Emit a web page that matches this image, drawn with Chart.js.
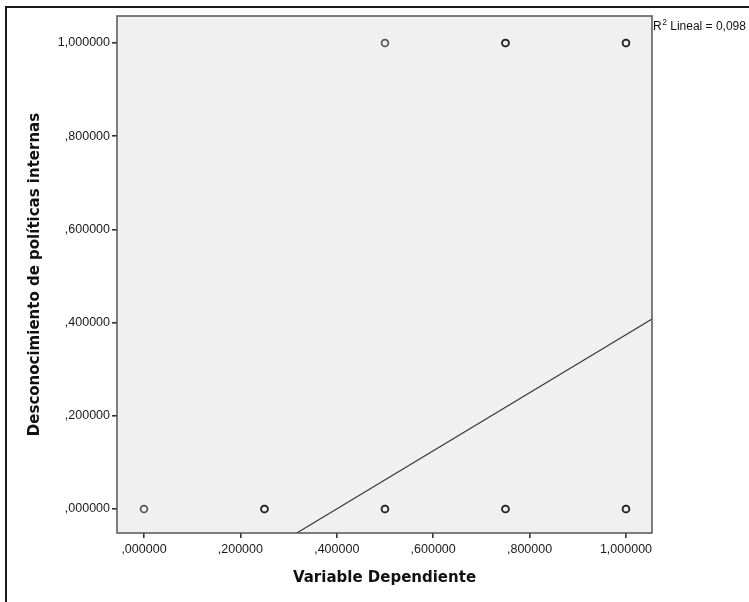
<!DOCTYPE html>
<html>
<head>
<meta charset="utf-8">
<script src="https://cdn.jsdelivr.net/npm/chart.js@4"></script>
<style>
  html, body { margin: 0; padding: 0; background: #fff; }
  canvas { display: block; }
</style>
</head>
<body>
<canvas id="grafica" width="749" height="602"></canvas>
<script>
// Dispersión: Variable Dependiente vs Desconocimiento de políticas internas

// ── Datos (puntos repetidos = casos superpuestos) ──
const puntosX = [0, 0.25, 0.25, 0.5, 0.5, 0.75, 0.75, 1, 1, 0.5, 0.75, 0.75, 1, 1];
const puntosY = [0, 0, 0, 0, 0, 0, 0, 0, 0, 1, 1, 1, 1, 1];

// Recta de ajuste lineal (estimada de la figura)
const interceptoAjuste = -0.249;
const pendienteAjuste = 0.623;
const textoR2 = 'Lineal = 0,098';

// Rango de ejes y marcas
const rangoX = [-0.056, 1.054];
const rangoY = [-0.0515, 1.058];
const marcasX = [0, 0.2, 0.4, 0.6, 0.8, 1.0];
const marcasY = [0, 0.2, 0.4, 0.6, 0.8, 1.0];
const etiquetasX = [',000000', ',200000', ',400000', ',600000', ',800000', '1,000000'];
const etiquetasY = [',000000', ',200000', ',400000', ',600000', ',800000', '1,000000'];

const puntos = puntosX.map((x, i) => ({ x, y: puntosY[i] }));
const lineaAjuste = rangoX.map(x => ({ x, y: interceptoAjuste + pendienteAjuste * x }));

const fuenteMarcas = { family: 'Liberation Sans, Arial, sans-serif', size: 12.5 };
const fuenteTitulos = { family: 'DejaVu Sans, Verdana, sans-serif', size: 15, weight: 'bold' };

// Fondo gris, marco del área, marco exterior y etiqueta R²
const decoracion = {
  id: 'decoracion',
  beforeDraw(chart) {
    const { ctx, chartArea: a } = chart;
    ctx.save();
    ctx.fillStyle = '#f0f0f0';
    ctx.fillRect(a.left, a.top, a.right - a.left, a.bottom - a.top);
    ctx.strokeStyle = '#1a1a1a';
    ctx.lineWidth = 2;
    ctx.beginPath();
    ctx.moveTo(6, chart.height);
    ctx.lineTo(6, 7);
    ctx.lineTo(chart.width, 7);
    ctx.stroke();
    ctx.restore();
  },
  afterDatasetsDraw(chart) {
    const { ctx, chartArea: a } = chart;
    ctx.save();
    ctx.strokeStyle = '#555';
    ctx.lineWidth = 1.5;
    ctx.strokeRect(a.left, a.top, a.right - a.left, a.bottom - a.top);
    ctx.fillStyle = '#111';
    ctx.textBaseline = 'alphabetic';
    ctx.font = '12px "Liberation Sans", Arial, sans-serif';
    let x = a.right + 1;
    ctx.fillText('R', x, 30);
    x += ctx.measureText('R').width;
    ctx.font = '8.5px "Liberation Sans", Arial, sans-serif';
    ctx.fillText('2', x + 0.5, 25);
    x += ctx.measureText('2').width + 0.5;
    ctx.font = '12px "Liberation Sans", Arial, sans-serif';
    ctx.fillText(' ' + textoR2, x, 30);
    ctx.restore();
  }
};

new Chart(document.getElementById('grafica'), {
  type: 'scatter',
  data: {
    datasets: [
      {
        data: lineaAjuste,
        showLine: true,
        borderColor: '#3a3a3a',
        borderWidth: 1.2,
        pointRadius: 0,
        fill: false
      },
      {
        data: puntos,
        pointRadius: 3.4,
        pointBorderWidth: 1.7,
        borderColor: 'rgba(15,15,15,0.68)',
        backgroundColor: 'rgba(0,0,0,0)'
      }
    ]
  },
  options: {
    responsive: false,
    animation: false,
    layout: { padding: { top: 16, right: 97, bottom: 0, left: 0 } },
    plugins: { legend: { display: false }, tooltip: { enabled: false } },
    scales: {
      x: {
        type: 'linear',
        min: rangoX[0],
        max: rangoX[1],
        afterBuildTicks: s => { s.ticks = marcasX.map(v => ({ value: v })); },
        afterFit: s => { s.height = 69; },
        ticks: {
          font: fuenteMarcas,
          color: '#1a1a1a',
          padding: 4,
          maxRotation: 0,
          callback: (v, i) => etiquetasX[i]
        },
        grid: { drawOnChartArea: false, tickLength: 5, color: '#333', lineWidth: 1.6 },
        border: { display: false },
        title: {
          display: true,
          text: 'Variable Dependiente',
          font: fuenteTitulos,
          color: '#111',
          padding: { top: 0, bottom: 15 }
        }
      },
      y: {
        type: 'linear',
        min: rangoY[0],
        max: rangoY[1],
        afterBuildTicks: s => { s.ticks = marcasY.map(v => ({ value: v })); },
        afterFit: s => { s.width = 117; },
        ticks: {
          font: fuenteMarcas,
          color: '#1a1a1a',
          padding: 2,
          callback: (v, i) => etiquetasY[i]
        },
        grid: { drawOnChartArea: false, tickLength: 5, color: '#333', lineWidth: 1.6 },
        border: { display: false },
        title: {
          display: true,
          text: 'Desconocimiento de políticas internas',
          font: fuenteTitulos,
          color: '#111',
          padding: { top: 26, bottom: 0 }
        }
      }
    }
  },
  plugins: [decoracion]
});
</script>
</body>
</html>
